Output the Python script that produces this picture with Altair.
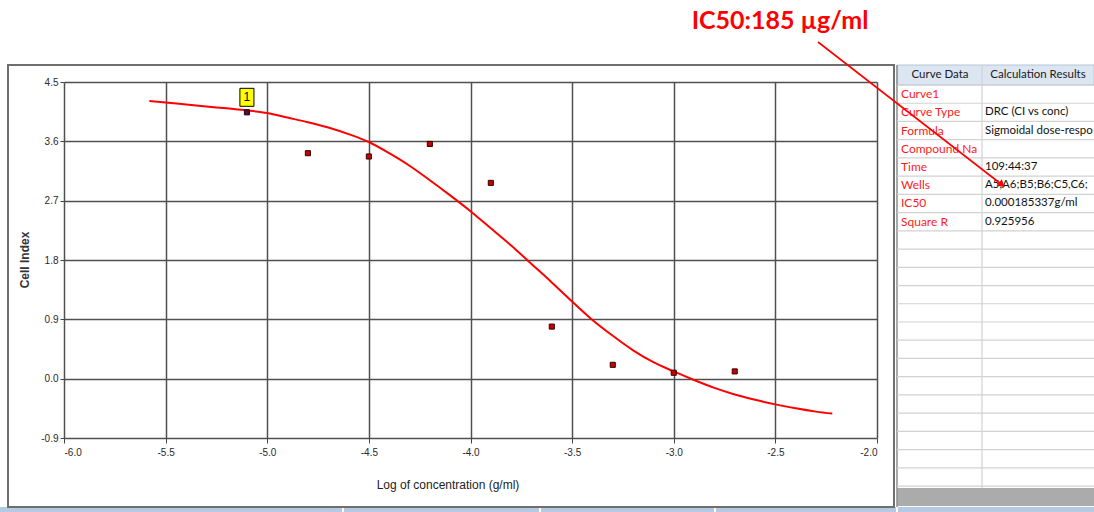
import altair as alt
import pandas as pd

# ---------------- data ----------------
dose_log = [-5.1, -4.8, -4.5, -4.2, -3.9, -3.6, -3.3, -3.0, -2.7]
cell_index = [4.04, 3.42, 3.37, 3.56, 2.97, 0.79, 0.21, 0.09, 0.11]

curve_log = [-5.58, -5.5, -5.4, -5.3, -5.2, -5.1, -5.0, -4.9, -4.8, -4.7, -4.6,
             -4.5, -4.4, -4.3, -4.2, -4.1, -4.0, -3.9, -3.8, -3.7, -3.6, -3.5,
             -3.4, -3.3, -3.2, -3.1, -3.0, -2.9, -2.8, -2.7, -2.6, -2.5, -2.4,
             -2.3, -2.22]
curve_ci = [4.21, 4.19, 4.16, 4.13, 4.10, 4.07, 4.03, 3.96, 3.89, 3.81, 3.71,
            3.59, 3.42, 3.23, 3.01, 2.78, 2.54, 2.28, 2.02, 1.74, 1.46, 1.17,
            0.89, 0.65, 0.43, 0.25, 0.11, -0.02, -0.14, -0.24, -0.32, -0.39, -0.45,
            -0.50, -0.53]

x_ticks = [-6.0, -5.5, -5.0, -4.5, -4.0, -3.5, -3.0, -2.5, -2.0]
y_ticks = [-0.9, 0.0, 0.9, 1.8, 2.7, 3.6, 4.5]

table_keys = ["Curve1", "Curve Type", "Formula", "Compound Name", "Time",
              "Wells", "IC50", "Square R"]
table_values = ["", "DRC (CI vs conc)", "Sigmoidal dose-response", "",
                "109:44:37", "A5,A6;B5;B6;C5,C6;D5,D6", "0.000185337g/ml",
                "0.925956"]
header_labels = ["Curve Data", "Calculation Results"]
annotation = "IC50:185 µg/ml"
x_title = "Log of concentration (g/ml)"
y_title = "Cell Index"
marker_label = "1"

# ---------------- layout ----------------
PL, PT, W, H = 64, 82, 813, 356
TOTAL_W, TOTAL_H = 1094, 512


def X(px):
    return px - PL


def Y(py):
    return py - PT


FONT_AX = "Liberation Sans Narrow, Liberation Sans, Arial, sans-serif"
FONT_TB = "Lato, Open Sans, sans-serif"
FONT_ANN = "Lato, Open Sans, sans-serif"
NO_ELLIPSIS = "\u200b"

one = alt.Data(values=[{"k": 0}])


def rect(x1, y1, x2, y2, **kw):
    return alt.Chart(one).mark_rect(**kw).encode(
        x=alt.value(X(x1)), x2=alt.value(X(x2)),
        y=alt.value(Y(y1)), y2=alt.value(Y(y2)))


def rule(x1, y1, x2, y2, **kw):
    return alt.Chart(one).mark_rule(**kw).encode(
        x=alt.value(X(x1)), x2=alt.value(X(x2)),
        y=alt.value(Y(y1)), y2=alt.value(Y(y2)))


def label(text, x, y, **kw):
    return alt.Chart(one).mark_text(**kw).encode(
        x=alt.value(X(x)), y=alt.value(Y(y)), text=alt.value(text))


# ---------------- main plot ----------------
pts_df = pd.DataFrame({"logc": dose_log, "ci": cell_index})
curve_df = pd.DataFrame({"logc": curve_log, "ci": curve_ci})

label_expr = "replace(format(datum.value, '.1f'), '\u2212', '-')"

axis_common = dict(
    title=None, grid=True, domain=False, tickColor="#444", tickWidth=1,
    labelFont=FONT_AX, labelFontSize=10, labelColor="#2a2a2a",
    gridColor="#505050", gridWidth=1.5, gridOpacity=1, labelExpr=label_expr,
)

xenc = alt.X("logc:Q",
             scale=alt.Scale(domain=[-6.0, -2.0], nice=False, zero=False),
             axis=alt.Axis(values=x_ticks, tickSize=5, labelPadding=4,
                           **axis_common))
yenc = alt.Y("ci:Q",
             scale=alt.Scale(domain=[-0.9, 4.5], nice=False, zero=False),
             axis=alt.Axis(values=y_ticks, tickSize=4, labelPadding=2,
                           **axis_common))

curve = alt.Chart(curve_df).mark_line(
    color="#ff0000", strokeWidth=2, interpolate="monotone"
).encode(x=xenc, y=yenc, order="logc:Q")

pts = alt.Chart(pts_df.iloc[1:]).mark_square(
    size=26, fill="#c40000", stroke="#3a0000", strokeWidth=1, opacity=1
).encode(x=xenc, y=yenc)

first_pt = pts_df.iloc[:1]
pt1 = alt.Chart(first_pt).mark_square(
    size=26, fill="#5a0a3c", stroke="#200010", strokeWidth=1, opacity=1
).encode(x=xenc, y=yenc)

pt1_box = alt.Chart(first_pt).mark_point(
    shape="M-0.78,-1L0.78,-1L0.78,1L-0.78,1Z", size=324, filled=True,
    fill="#ffff00", stroke="#000000", strokeWidth=1, opacity=1, yOffset=-15
).encode(x=xenc, y=yenc)

pt1_text = alt.Chart(first_pt).mark_text(
    dy=-15, fontSize=12, font=FONT_AX, color="#000000"
).encode(x=xenc, y=yenc, text=alt.value(marker_label))

main = alt.layer(curve, pts, pt1, pt1_box, pt1_text)

# ---------------- table (pixel positioned) ----------------
ROW0, ROWH = 85, 18.23
row_lines_df = pd.DataFrame({"y": [Y(ROW0 + ROWH * k) for k in range(23)]})
rows_df = pd.DataFrame({
    "y": [Y(ROW0 + ROWH * k + ROWH / 2) for k in range(len(table_keys))],
    "key": table_keys,
    "val": table_values,
})

row_lines = alt.Chart(row_lines_df).mark_rule(color="#d2d2d2", strokeWidth=1.2).encode(
    x=alt.value(X(897)), x2=alt.value(X(1094)),
    y=alt.Y("y:Q", scale=None, axis=None))

key_text = alt.Chart(rows_df).mark_text(
    align="left", baseline="middle", font=FONT_TB, fontSize=12,
    color="#ff1a1a", limit=81, ellipsis=NO_ELLIPSIS
).encode(x=alt.value(X(901)), y=alt.Y("y:Q", scale=None, axis=None), text="key:N")

val_text = alt.Chart(rows_df).mark_text(
    align="left", baseline="middle", font=FONT_TB, fontSize=11.5,
    color="#111111", limit=108, ellipsis=NO_ELLIPSIS
).encode(x=alt.value(X(985)), y=alt.Y("y:Q", scale=None, axis=None), text="val:N")

table_layer = alt.layer(row_lines, key_text, val_text)

# ---------------- decorations ----------------
header_bg = rect(897, 65, 1094, 85, fill="#dce6f2", stroke="#b8c4d2", strokeWidth=1)
grey_bar = rect(897, 488, 1094, 506, fill="#ababab")
strip = rect(0, 507, 1094, 512, fill="#b5c9e2")
strip_seps = [rule(sx, 507, sx, 512, color="#ffffff", strokeWidth=2)
              for sx in (343, 540, 715, 897)]
col_div = rule(982, 65, 982, 488, color="#d2d2d2", strokeWidth=1.2)
table_left = rule(897, 65, 897, 507, color="#8c8c8c", strokeWidth=1.5)
hdr1 = label(header_labels[0], 940, 75, align="center", baseline="middle",
             font=FONT_TB, fontSize=11.5, color="#1a1a1a")
hdr2 = label(header_labels[1], 1038, 75, align="center", baseline="middle",
             font=FONT_TB, fontSize=11.5, color="#1a1a1a")

panel = rect(8, 65, 894, 507, fillOpacity=0, stroke="#6e6e6e", strokeWidth=2)

x_title_t = label(x_title, 448, 485, align="center", baseline="middle",
                  font=FONT_AX, fontSize=12, color="#222222")
y_title_t = label(y_title, 25, 260, align="center", baseline="middle",
                  font="Liberation Sans, Arial, sans-serif", fontSize=12,
                  fontWeight="bold", color="#333333", angle=270)

arrow_line = rule(818, 42, 1001, 184, color="#ff0000", strokeWidth=1.6)
arrow_head = alt.Chart(one).mark_point(
    shape="triangle", filled=True, size=70, color="#ff0000", opacity=1, angle=128
).encode(x=alt.value(X(1001)), y=alt.value(Y(184)))

ann = label(annotation, 780, 29, align="center", baseline="alphabetic",
            font=FONT_ANN, fontSize=25, fontWeight="bold", color="#ff0000")

chart = alt.layer(
    header_bg, grey_bar, strip, *strip_seps, col_div, table_left, hdr1, hdr2,
    table_layer, main, panel, x_title_t, y_title_t, arrow_line, arrow_head, ann
).resolve_scale(x="independent", y="independent").properties(
    width=W, height=H,
    padding={"left": PL, "top": PT, "right": TOTAL_W - PL - W,
             "bottom": TOTAL_H - PT - H},
    autosize=alt.AutoSizeParams(type="none"),
    background="#ffffff",
).configure_view(stroke=None)

chart.save("out.html", embed_options={"renderer": "svg", "actions": False})
